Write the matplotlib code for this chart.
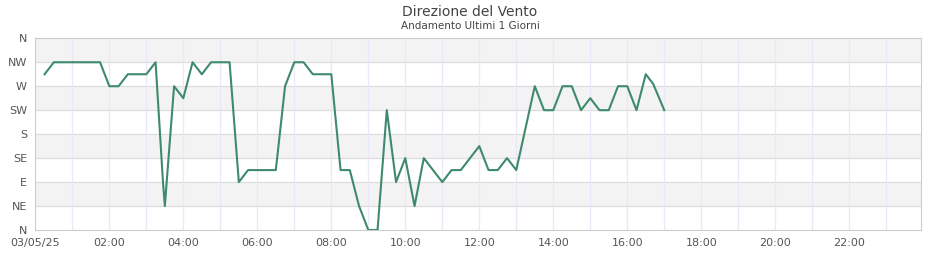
import matplotlib
matplotlib.use('Agg')
import matplotlib.pyplot as plt

# Wind direction readings (compass index: 0=N, 1=NE, ... 7=NW, 8=N)
times = ['00:15', '00:30', '00:45', '01:00', '01:15', '01:30', '01:45', '02:00',
         '02:15', '02:30', '02:45', '03:00', '03:15', '03:27', '03:30', '03:45',
         '04:00', '04:15', '04:30', '04:45', '05:00', '05:15', '05:30', '05:45',
         '06:00', '06:15', '06:30', '06:45', '07:00', '07:15', '07:30', '07:45',
         '08:00', '08:15', '08:30', '08:45', '09:00', '09:15', '09:30', '09:45',
         '10:00', '10:15', '10:30', '10:45', '11:00', '11:15', '11:30', '11:45',
         '12:00', '12:15', '12:30', '12:45', '13:00', '13:30', '13:45', '14:00',
         '14:15', '14:30', '14:45', '15:00', '15:15', '15:30', '15:45', '16:00',
         '16:15', '16:30', '16:42', '17:00']
direction = [6.5, 7, 7, 7, 7, 7, 7, 6,
             6, 6.5, 6.5, 6.5, 7, 2, 1, 6,
             5.5, 7, 6.5, 7, 7, 7, 2, 2.5,
             2.5, 2.5, 2.5, 6, 7, 7, 6.5, 6.5,
             6.5, 2.5, 2.5, 1, 0, 0, 5, 2,
             3, 1, 3, 2.5, 2, 2.5, 2.5, 3,
             3.5, 2.5, 2.5, 3, 2.5, 6, 5, 5,
             6, 6, 5, 5.5, 5, 5, 6, 6,
             5, 6.5, 6.1, 5]

ytick_labels = ['N', 'NE', 'E', 'SE', 'S', 'SW', 'W', 'NW', 'N']
xtick_hours = list(range(0, 24, 2))
xtick_labels = ['03/05/25'] + ['%02d:00' % h for h in xtick_hours[1:]]

hours = [int(t[:2]) + int(t[3:]) / 60 for t in times]

fig = plt.figure(figsize=(9.4, 2.6), dpi=100)
ax = fig.add_axes([0.0376, 0.1154, 0.9418, 0.7373])

# alternating bands
for lo in [1, 3, 5, 7]:
    ax.axhspan(lo, lo + 1, color='#f3f3f3', zorder=0, lw=0)
for y in range(1, 8):
    ax.axhline(y, color='#dddddd', lw=0.9, zorder=1)
for h in range(1, 24):
    ax.axvline(h, color='#e8e8f6', lw=0.9, zorder=1)

ax.plot(hours, direction, color='#3d8a6e', lw=1.5, zorder=3)

ax.set_xlim(0, 23.93)
ax.set_ylim(0, 8)
ax.set_yticks(range(9))
ax.set_yticklabels(ytick_labels)
ax.set_xticks(xtick_hours)
ax.set_xticklabels(xtick_labels)
ax.tick_params(length=0, labelsize=8, labelcolor='#555555', pad=6)
for s in ax.spines.values():
    s.set_color('#cccccc')

fig.text(0.5, 0.955, 'Direzione del Vento', ha='center', va='center',
         fontsize=10, color='#444444')
fig.text(0.5, 0.9, 'Andamento Ultimi 1 Giorni', ha='center', va='center',
         fontsize=7.5, color='#444444')

fig.savefig('out.png', dpi=100)
